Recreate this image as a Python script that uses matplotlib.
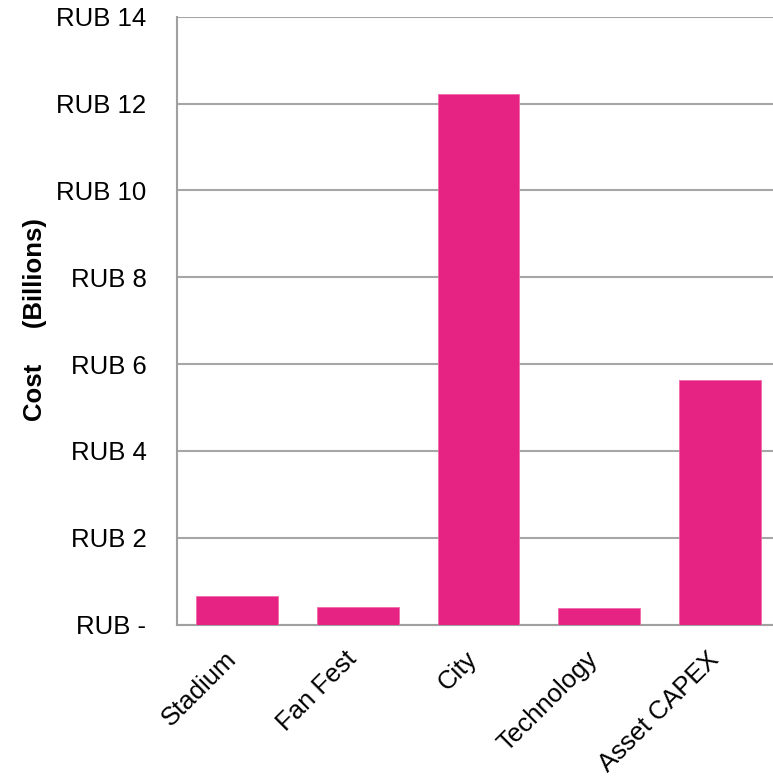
import matplotlib
matplotlib.use("Agg")
import matplotlib.pyplot as plt
import matplotlib.transforms as mtransforms

categories = ["Stadium", "Fan Fest", "City", "Technology", "Asset CAPEX"]
values = [0.66, 0.40, 12.23, 0.39, 5.64]
yticks = [0, 2, 4, 6, 8, 10, 12, 14]
ytick_labels = ["RUB -", "RUB 2", "RUB 4", "RUB 6", "RUB 8", "RUB 10", "RUB 12", "RUB 14"]

plt.rcParams['font.family'] = ['Liberation Sans', 'DejaVu Sans']

fig = plt.figure(figsize=(7.73, 7.8), dpi=100)
ax = fig.add_axes([177/773, 155.5/780, 1 - 177/773, (624.5 - 16.7)/780])

x = list(range(len(categories)))
ax.bar(x, values, width=0.677, color='#E62283', edgecolor='#F06AA8', linewidth=0.6, zorder=3)

ax.set_ylim(0, 14)
ax.set_xlim(-0.5, 4.442)
ax.set_yticks(yticks)
ax.set_yticklabels(ytick_labels, fontsize=18.5)
ax.set_xticks(x)
ax.set_xticklabels(categories, fontsize=18.5, rotation=45, ha='right', va='baseline',
                   rotation_mode='anchor')
offset = mtransforms.ScaledTranslation(3/100, 2/100, fig.dpi_scale_trans)
for lbl in ax.get_xticklabels():
    lbl.set_transform(lbl.get_transform() + offset)

ax.grid(axis='y', color='#A6A6A6', linewidth=1.5, zorder=0)
for s in ['top', 'right']:
    ax.spines[s].set_visible(False)
for s in ['left', 'bottom']:
    ax.spines[s].set_color('#A0A0A0')
    ax.spines[s].set_linewidth(1.5)
ax.tick_params(axis='y', length=0, pad=22)
ax.tick_params(axis='x', length=0, pad=26)

fig.text(35/773, 1 - 320/780, "Cost     (Billions)", rotation=90, fontsize=18.5, fontweight='bold',
         ha='center', va='center')

fig.savefig("out.png", dpi=100)
